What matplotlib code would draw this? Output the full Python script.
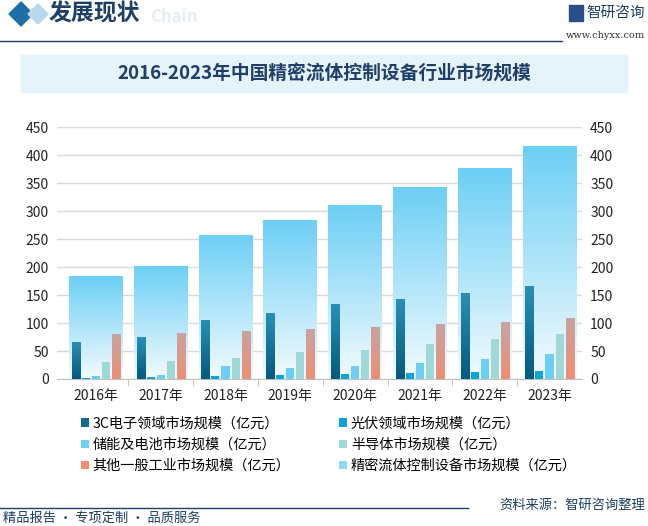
import numpy as np
import matplotlib
matplotlib.use('Agg')
import matplotlib.pyplot as plt
from matplotlib.patches import Patch, Polygon
from matplotlib.colors import LinearSegmentedColormap

plt.rcParams['font.family'] = ['Noto Sans CJK SC', 'DejaVu Sans']

years = ['2016年', '2017年', '2018年', '2019年', '2020年', '2021年', '2022年', '2023年']
total = [183, 202, 256, 284, 311, 343, 377, 415]
electronics_3c = [65, 74, 104, 118, 133, 143, 152, 165]
photovoltaic = [2.5, 4, 6, 8, 9.5, 11, 13, 15]
storage = [6, 8, 24, 20, 24, 29, 36, 45]
semiconductor = [31, 33, 38, 49, 52, 63, 72, 81]
other_industry = [79, 81, 85, 88, 92, 97, 101, 108]

labels = ['3C电子领域市场规模（亿元）', '光伏领域市场规模（亿元）',
          '储能及电池市场规模（亿元）', '半导体市场规模（亿元）',
          '其他一般工业市场规模（亿元）', '精密流体控制设备市场规模（亿元）']

navy = '#1f3f66'
W, H = 648, 526


def fx(px):
    return px / W


def fy(py):
    return 1 - py / H


fig = plt.figure(figsize=(6.48, 5.26), dpi=100)
ax = fig.add_axes([0.088, 0.2795, 0.81, 0.4785])
x = np.arange(len(years))


def gradient_bars(ax, xs, heights, width, top_color, bottom_color, z):
    cmap = LinearSegmentedColormap.from_list('g', [bottom_color, top_color])
    grad = np.linspace(0, 1, 256).reshape(-1, 1)
    bars = ax.bar(xs, heights, width, color='none', zorder=z)
    for b in bars:
        x0, y0 = b.get_x(), b.get_y()
        ax.imshow(grad, cmap=cmap, origin='lower', aspect='auto', zorder=z,
                  extent=[x0, x0 + b.get_width(), y0, y0 + b.get_height()])
    return bars


gradient_bars(ax, x, total, 0.83, '#6ccff5', '#f4fbfe', 1)

pitch, w = 0.155, 0.124
gradient_bars(ax, x - 2 * pitch, electronics_3c, w, '#2a8fb5', '#045a7e', 3)
ax.bar(x - pitch, photovoltaic, w, color='#0aa5dc', zorder=3)
ax.bar(x, storage, w, color='#6ccff5', zorder=3)
ax.bar(x + pitch, semiconductor, w, color='#9ed8d8', zorder=3)
gradient_bars(ax, x + 2 * pitch, other_industry, w, '#c9a3a0', '#ee8e74', 3)

ax.set_xlim(-0.6, 7.5)
ax.set_ylim(0, 450)
ax.set_yticks(range(0, 451, 50))
ax.grid(axis='y', color='#d9d9d9', linewidth=1, zorder=0)
ax.set_axisbelow(True)
for s in ['top', 'right', 'left']:
    ax.spines[s].set_visible(False)
ax.spines['bottom'].set_color('#bfbfbf')
ax.set_xticks(x)
ax.set_xticklabels(years, fontsize=10, color='#222222')
ax.tick_params(axis='x', length=0, pad=7)
ax.set_xticks(x[:-1] + 0.5, minor=True)
ax.tick_params(axis='x', which='minor', length=5, color='#bfbfbf')
ax.tick_params(axis='y', length=0, labelsize=10, labelcolor='#222222', pad=6)

ax2 = ax.twinx()
ax2.set_ylim(0, 450)
ax2.set_yticks(range(0, 451, 50))
for s in ax2.spines.values():
    s.set_visible(False)
ax2.tick_params(axis='y', length=0, labelsize=10, labelcolor='#222222', pad=6)

# legend, two columns filled row by row
colors = ['#0e6a8f', '#0aa5dc', '#6ccff5', '#9ed8d8', '#ee8e74', '#8fd8f5']
handles = [Patch(facecolor=c, edgecolor='none') for c in colors]
order = [0, 2, 4, 1, 3, 5]
fig.legend([handles[i] for i in order], [labels[i] for i in order],
           loc='upper left', bbox_to_anchor=(0.105, 0.232), ncol=2,
           frameon=False, fontsize=10.2, handlelength=0.55, handleheight=0.55,
           handletextpad=0.3, columnspacing=3.4, labelspacing=0.5)

# header
fig.patches.append(Polygon([[fx(9), fy(14)], [fx(21), fy(2)], [fx(33), fy(14)], [fx(21), fy(26)]],
                           closed=True, transform=fig.transFigure, color='#1e6fa8'))
fig.patches.append(Polygon([[fx(28), fy(14)], [fx(38), fy(4)], [fx(48), fy(14)], [fx(38), fy(24)]],
                           closed=True, transform=fig.transFigure, color='#b9d8ee'))
fig.text(fx(49), fy(14), '发展现状', fontsize=16.5, fontweight='bold', color=navy, va='center')
fig.text(fx(150), fy(17), 'Chain', fontsize=12, fontweight='bold', color='#e6eef5', va='center')
fig.add_artist(plt.Line2D([0, fx(562)], [fy(41)] * 2, color=navy, linewidth=1))
fig.text(fx(645), fy(13), '智研咨询', fontsize=10.5, color=navy, va='center', ha='right')
fig.patches.append(plt.Rectangle((fx(569), fy(21)), fx(14), 16 / H, transform=fig.transFigure,
                                 color='#2a4e8a'))
fig.text(fx(645), fy(35), 'www.chyxx.com', fontsize=7, color='#333333', va='center', ha='right',
         family='DejaVu Serif')

# title band
fig.patches.append(plt.Rectangle((fx(21), fy(92)), fx(606), 37 / H,
                                 transform=fig.transFigure, color='#e5f3fb', zorder=0))
fig.text(0.5, fy(74), '2016-2023年中国精密流体控制设备行业市场规模',
         fontsize=13.5, fontweight='bold', color=navy, ha='center', va='center')

# footer
fig.add_artist(plt.Line2D([0, fx(468)], [fy(508)] * 2, color=navy, linewidth=1))
fig.text(fx(645), fy(505), '资料来源：智研咨询整理', fontsize=9.5, color=navy,
         ha='right', va='center')
fig.text(fx(3), fy(518), '精品报告 · 专项定制 · 品质服务', fontsize=9.5, color=navy,
         va='center')

fig.savefig('out.png', dpi=100)
